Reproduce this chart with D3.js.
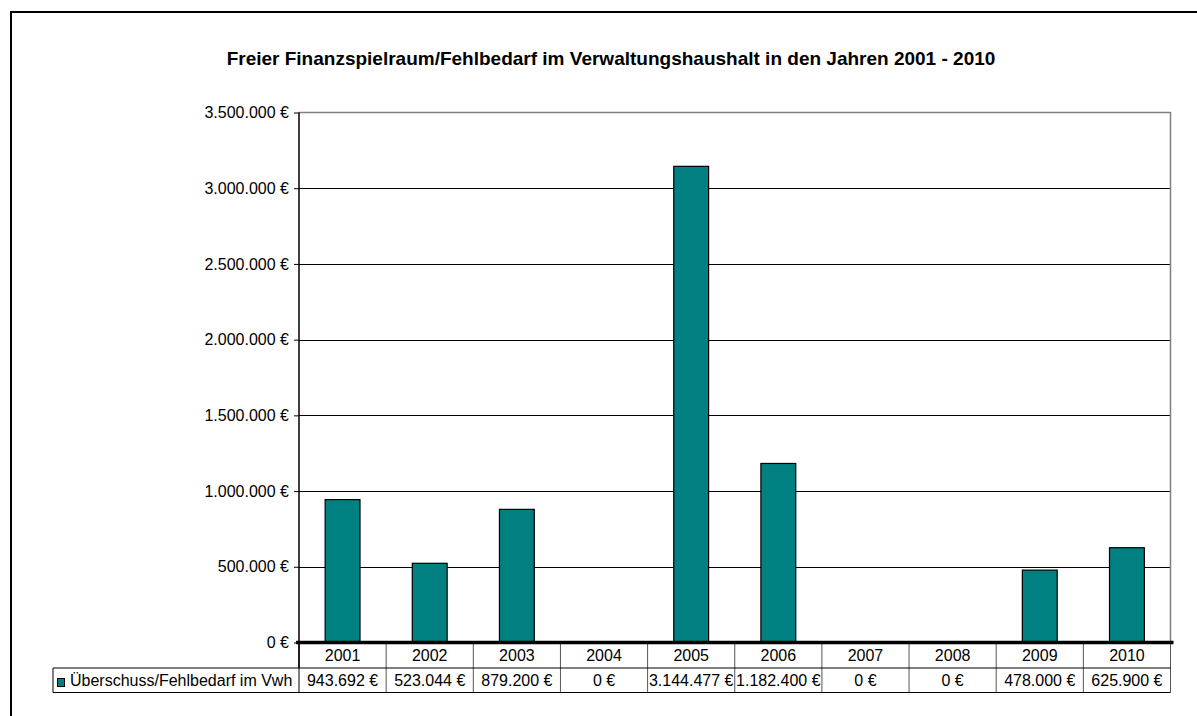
<!DOCTYPE html>
<html>
<head>
<meta charset="utf-8">
<style>
    body { margin: 0; background: #fff; }
    svg { display: block; font-family: 'Liberation Sans', Arial, sans-serif; }
    .y .domain { display: none; }
    .y .tick line { stroke: #000; }
    .y .tick text { font-size: 16px; fill: #000; }
</style>
</head>
<body>
<svg width="1197" height="716"></svg>
<script src="https://d3js.org/d3.v7.min.js"></script>
<script>
    // chart data
    const years = ["2001", "2002", "2003", "2004", "2005", "2006", "2007", "2008", "2009", "2010"];
    const values = [943692, 523044, 879200, 0, 3144477, 1182400, 0, 0, 478000, 625900];
    const yTicks = [0, 500000, 1000000, 1500000, 2000000, 2500000, 3000000, 3500000];
    const seriesName = "Überschuss/Fehlbedarf im Vwh";
    const title = "Freier Finanzspielraum/Fehlbedarf im Verwaltungshaushalt in den Jahren 2001 - 2010";

    const de = d3.formatLocale({ decimal: ",", thousands: ".", grouping: [3], currency: ["", " €"] });
    const euro = d => de.format(",.0f")(d) + " €";

    const svg = d3.select("svg");
    const margin = { top: 112.5, right: 1170.5, bottom: 642.5, left: 299 };

    const x = d3.scaleBand()
        .domain(years)
        .range([margin.left, margin.right])
        .paddingInner(0);

    const y = d3.scaleLinear()
        .domain([0, 3500000])
        .range([margin.bottom, margin.top]);

    // outer frame
    svg.append("rect")
        .attr("x", 11).attr("y", 12)
        .attr("width", 1200).attr("height", 720)
        .style("fill", "none")
        .style("stroke", "#000")
        .style("stroke-width", 2);

    // title
    svg.append("text")
        .attr("x", 611).attr("y", 65)
        .attr("text-anchor", "middle")
        .style("font-size", "19px")
        .style("font-weight", "bold")
        .text(title);

    // gridlines
    svg.append("g")
        .selectAll("line")
        .data(yTicks.filter(d => d > 0 && d < 3500000))
        .join("line")
        .attr("x1", margin.left).attr("x2", margin.right)
        .attr("y1", d => Math.round(y(d)) + 0.5).attr("y2", d => Math.round(y(d)) + 0.5)
        .style("stroke", "#000");

    // plot border (top + right)
    svg.append("path")
        .attr("d", `M${margin.left},${margin.top}H${margin.right}V${margin.bottom}`)
        .style("fill", "none")
        .style("stroke", "#808080")
        .style("stroke-width", 1.5);

    // y axis
    const yAxis = d3.axisLeft(y)
        .tickValues(yTicks)
        .tickSize(5)
        .tickPadding(5)
        .tickFormat(euro);

    svg.append("g")
        .attr("class", "y axis")
        .attr("transform", `translate(${margin.left},0)`)
        .call(yAxis);

    svg.append("line")
        .attr("x1", margin.left).attr("x2", margin.left)
        .attr("y1", margin.top).attr("y2", 668)
        .style("stroke", "#000")
        .style("stroke-width", 1.5);

    // bars
    const bw = x.bandwidth() * 0.4;
    svg.append("g")
        .selectAll("rect")
        .data(values)
        .join("rect")
        .attr("x", (d, i) => x(years[i]) + (x.bandwidth() - bw) / 2)
        .attr("y", d => y(d))
        .attr("width", bw)
        .attr("height", d => y(0) - y(d))
        .style("fill", "#008080")
        .style("stroke", d => d > 0 ? "#000" : "none")
        .style("stroke-width", 1.2);

    // data table
    const rowTop = 643, rowMid = 668, rowBot = 692.5, legendLeft = 53;
    const table = svg.append("g").style("font-size", "16px");

    table.selectAll("line.sep")
        .data(years.map(c => x(c)).concat([margin.right]))
        .join("line")
        .attr("class", "sep")
        .attr("x1", d => d).attr("x2", d => d)
        .attr("y1", rowTop).attr("y2", rowBot)
        .style("stroke", (d, i) => i === 0 ? "#000" : "#555");

    table.append("line")
        .attr("x1", legendLeft).attr("x2", margin.right)
        .attr("y1", rowMid).attr("y2", rowMid)
        .style("stroke", "#000");
    table.append("line")
        .attr("x1", legendLeft).attr("x2", margin.right)
        .attr("y1", rowBot).attr("y2", rowBot)
        .style("stroke", "#000");
    table.append("line")
        .attr("x1", legendLeft).attr("x2", legendLeft)
        .attr("y1", rowMid).attr("y2", rowBot)
        .style("stroke", "#000");

    table.selectAll("text.year")
        .data(years)
        .join("text")
        .attr("class", "year")
        .attr("x", d => x(d) + x.bandwidth() / 2)
        .attr("y", 660.5)
        .attr("text-anchor", "middle")
        .text(d => d);

    table.selectAll("text.val")
        .data(values)
        .join("text")
        .attr("class", "val")
        .attr("x", (d, i) => x(years[i]) + x.bandwidth() / 2)
        .attr("y", 686)
        .attr("text-anchor", "middle")
        .text(d => euro(d));

    // legend key
    table.append("rect")
        .attr("x", 57.5).attr("y", 678.5)
        .attr("width", 7).attr("height", 8)
        .style("fill", "#008080")
        .style("stroke", "#000");
    table.append("text")
        .attr("x", 70).attr("y", 686)
        .text(seriesName);

    // thick category axis
    svg.append("line")
        .attr("x1", margin.left - 3).attr("x2", margin.right + 3)
        .attr("y1", y(0)).attr("y2", y(0))
        .style("stroke", "#000")
        .style("stroke-width", 3.5);
</script>
</body>
</html>
